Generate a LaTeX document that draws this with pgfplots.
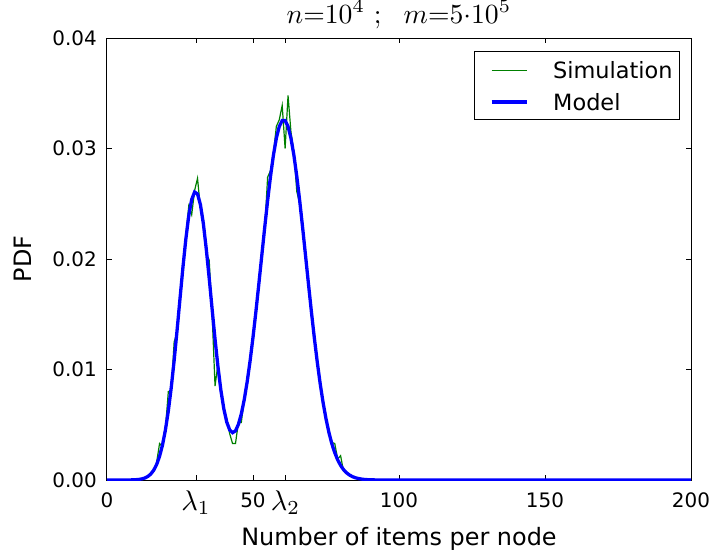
\documentclass[border=0pt]{standalone}
\usepackage[no-math]{fontspec}
\setmainfont{DejaVu Sans}
\usepackage{graphicx}
\usepackage{pgfplots}
\pgfplotsset{compat=1.18}
\definecolor{mplgreen}{rgb}{0,0.5,0}
\newcommand{\lam}[1]{\raisebox{-3bp}{\scalebox{2.85}{\fontsize{10}{12}\selectfont$\lambda_{#1}$}}}
\begin{document}
\begin{tikzpicture}
\useasboundingbox (-107bp,-79bp) rectangle (608bp,480bp);
\begin{axis}[
  at={(0,0)}, anchor=south west,
  scale only axis, width=584bp, height=442bp,
  xmin=0, xmax=200, ymin=0, ymax=0.04,
  xtick={0,30.5,50,61.1,100,150,200},
  xticklabels={0,\lam{1},50,\lam{2},100,150,200},
  ytick={0,0.01,0.02,0.03,0.04},
  scaled y ticks=false,
  /pgf/number format/assume math mode=true,
  y tick label style={/pgf/number format/fixed, /pgf/number format/fixed zerofill, /pgf/number format/precision=2},
  tick label style={font=\fontsize{20}{24}\selectfont},
  xticklabel style={anchor=base, yshift=-27bp},
  yticklabel style={anchor=east, inner sep=0pt, xshift=-10bp},
  major tick length=5.3bp,
  tick style={black, line width=1bp},
  axis line style={black, line width=1bp},
  tick align=inside,
  title={\scalebox{2.78}{$n{=}10^4\ ;\ \ m{=}5{\cdot}10^5$}},
  title style={at={(axis description cs:0.5,1)}, anchor=base, yshift=9bp, inner sep=0pt, font=\fontsize{10}{12}\selectfont},
  xlabel={Number of items per node},
  xlabel style={at={(axis description cs:0.5,0)}, anchor=base, yshift=-65bp, font=\fontsize{24}{28}\selectfont},
  ylabel={PDF},
  ylabel style={at={(axis description cs:0,0.5)}, anchor=center, rotate=0, yshift=84bp, font=\fontsize{24}{28}\selectfont},
  legend style={at={(axis description cs:1,1)}, anchor=north east, xshift=-11bp, yshift=-13bp,
    draw=black, line width=0.8bp, inner xsep=7bp, inner ysep=2.6bp,
    column sep=0pt, row sep=0pt,
    nodes={inner xsep=0pt, inner ysep=0pt, text height=24.55bp, text depth=7.05bp, anchor=base west},
    font=\fontsize{22.5}{27}\selectfont},
  legend cell align=left,
  legend image code/.code={\draw[#1] (0bp,8.2bp) -- (35bp,8.2bp); \path[draw opacity=0] (-8bp,8.2bp) -- (60bp,8.2bp);},
]
\addplot[color=mplgreen, line width=1.2bp] coordinates {
(0,0) (9,0) (10,0.00002) (11,0.00008) (12,0.00012) (13,0.0002) (14,0.0003) (15,0.0006)
(16,0.0008) (17,0.0016) (18,0.0033) (19,0.0030) (20,0.0046) (21,0.0080) (22,0.0081)
(23,0.0125) (24,0.0133) (25,0.0166) (26,0.0192) (27,0.0221) (28,0.0248) (29,0.0240)
(30,0.0262) (31,0.0273) (32,0.0246) (33,0.0236) (34,0.0205) (35,0.0199) (36,0.0150)
(37,0.0085) (38,0.0105) (39,0.0080) (40,0.0062) (41,0.0056) (42,0.0042) (43,0.0033)
(44,0.0033) (45,0.0052) (46,0.0052) (47,0.0073) (48,0.0087) (49,0.0110) (50,0.0125)
(51,0.0155) (52,0.0175) (53,0.0205) (54,0.0226) (55,0.0274) (56,0.0280) (57,0.0296)
(58,0.0320) (59,0.0326) (60,0.0339) (61,0.0300) (62,0.0348) (63,0.0315) (64,0.0296)
(65,0.0261) (66,0.0250) (67,0.0231) (68,0.0200) (69,0.0180) (70,0.0150) (71,0.0131)
(72,0.0105) (73,0.0089) (74,0.0068) (75,0.0057) (76,0.0042) (77,0.0034) (78,0.0033)
(79,0.0019) (80,0.0022) (81,0.0008) (82,0.0007) (83,0.0004) (84,0.0003) (85,0.0002)
(86,0.0001) (88,0.00005) (90,0.00002) (92,0) (200,0)
};
\addlegendentry{Simulation}
\addplot[color=blue, line width=3.3bp] coordinates {
(0,0) (9,0.00001) (10,0.00003) (11,0.000055) (12,0.000103) (13,0.000185) (14,0.000323)
(15,0.000545) (16,0.000888) (17,0.0014) (18,0.00214) (19,0.00316) (20,0.00452)
(21,0.00625) (22,0.00836) (23,0.01082) (24,0.01355) (25,0.01641) (26,0.01923)
(27,0.0218) (28,0.02392) (29,0.02538) (30,0.02606) (31,0.02589) (32,0.02491)
(33,0.0232) (34,0.0209) (35,0.01826) (36,0.01547) (37,0.01274) (38,0.01026)
(39,0.00813) (40,0.00645) (41,0.00525) (42,0.00454) (43,0.00428) (44,0.00445)
(45,0.00503) (46,0.00598) (47,0.00727) (48,0.00888) (49,0.01077) (50,0.01291)
(51,0.01525) (52,0.01774) (53,0.02029) (54,0.02283) (55,0.02526) (56,0.02748)
(57,0.0294) (58,0.03093) (59,0.03199) (60,0.03253) (61,0.03253) (62,0.03199)
(63,0.03093) (64,0.0294) (65,0.02748) (66,0.02526) (67,0.02283) (68,0.02029)
(69,0.01773) (70,0.01523) (71,0.01287) (72,0.01069) (73,0.00873) (74,0.00701)
(75,0.00554) (76,0.0043) (77,0.00328) (78,0.00247) (79,0.00182) (80,0.00132)
(81,0.00094) (82,0.00066) (83,0.00046) (84,0.00031) (85,0.00021) (86,0.00014)
(87,0.00009) (88,0.000055) (89,0.000034) (90,0.00002) (92,0.000007) (95,0) (200,0)
};
\addlegendentry{Model}
\end{axis}
\end{tikzpicture}
\end{document}
